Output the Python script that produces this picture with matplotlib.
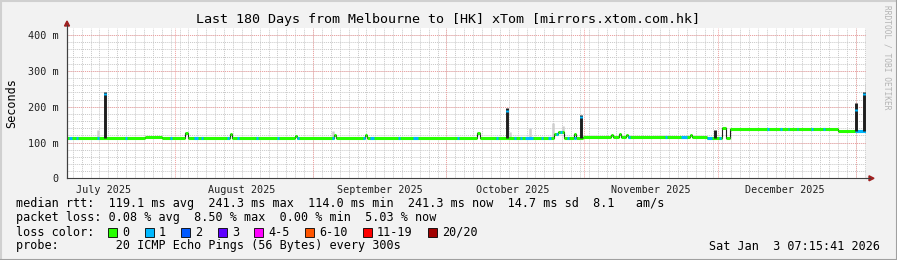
"""
Smokeping style latency graph: last 180 days, Melbourne -> xTom HK mirror.
"""

import datetime as dt
import numpy as np
import matplotlib
matplotlib.use("Agg")
import matplotlib.pyplot as plt
from matplotlib.patches import Rectangle, Polygon
from matplotlib.lines import Line2D

# x values are days counted from 2025-07-01 00:00
T0 = dt.datetime(2025, 7, 1)
X_START, X_END = 6.7, 186.3

# median rtt (ms) as a step line: value holds from each day to the next
med_days = [6.7, 24.3, 28.1, 33.3, 33.8, 43.4, 43.9, 58.0, 58.4, 66.7, 67.2,
            73.7, 74.1, 98.8, 99.5, 116.2, 117.0, 118.4, 120.7, 121.1, 122.7,
            129.0, 129.4, 130.8, 131.3, 132.4, 132.8, 146.7, 147.1, 150.5,
            154.0, 154.9, 155.8, 180.0]
med_ms = [113, 115.5, 113, 127, 113, 124, 113, 118, 113, 122, 113,
          120, 113, 127, 113, 124, 128, 113, 125, 113, 116,
          120, 116, 124, 116, 122, 116, 120, 116, 113,
          140, 113, 138, 132]

# tall spikes: dark smoke bar top and the median tip (1 loss, blue)
spike_days = [15.3, 105.6, 122.2, 152.3, 184.0, 185.9]
spike_top = [241, 196, 177, 135, 210, 241]
spike_tip = [236, 190, 172, 0, 192, 236]

# faint smoke (grey) above the line
smoke_days = [13.7, 66.5, 106.3, 110.8, 115.9, 118.2, 186.2]
smoke_top = [135, 131, 130, 140, 154, 145, 266]

# stretches where 1 of 20 pings was lost (start day, length in days)
loss_days = [7.2, 8.8, 13.5, 19.8, 29.9, 35.3, 36.8, 42.7, 44.9, 49.2, 53.9,
             58.4, 66.3, 73.2, 74.8, 81.1, 84.5, 94.4, 103.1, 107.2, 108.5,
             109.6, 113.2, 114.8, 116.6, 117.5, 119.1, 120.6, 132.8, 141.1,
             144.8, 150.5, 153.2, 164.0, 166.9, 168.7, 170.7, 173.9, 176.6,
             183.9]
loss_len = [0.6, 0.4, 0.4, 0.4, 0.4, 0.8, 0.4, 0.4, 0.4, 0.4, 0.4,
            0.4, 0.4, 0.4, 0.8, 0.4, 1.2, 0.4, 0.4, 0.4, 0.4,
            1.8, 0.4, 0.6, 0.4, 0.4, 0.4, 0.6, 0.4, 0.4,
            1.2, 1.2, 0.4, 0.4, 0.5, 0.4, 0.4, 0.4, 0.4,
            2.4]

y_ticks = [0, 100, 200, 300, 400]
y_labels = ["0", "100 m", "200 m", "300 m", "400 m"]

loss_labels = ["0", "1", "2", "3", "4-5", "6-10", "11-19", "20/20"]
loss_colors = ["#26ff00", "#00b8ff", "#0059ff", "#5e00ff",
               "#ff00ff", "#ff5500", "#ff0000", "#a00000"]

stats_rtt = "median rtt:  119.1 ms avg  241.3 ms max  114.0 ms min  241.3 ms now  14.7 ms sd  8.1   am/s"
stats_loss = "packet loss: 0.08 % avg  8.50 % max  0.00 % min  5.03 % now"
probe_text = "probe:        20 ICMP Echo Pings (56 Bytes) every 300s"
stamp_text = "Sat Jan  3 07:15:41 2026"
title_text = "Last 180 Days from Melbourne to [HK] xTom [mirrors.xtom.com.hk]"

W, H = 897, 260
MONO = "DejaVu Sans Mono"


def fx(px):
    return px / W


def fy(py):
    return 1 - py / H


def day(d):
    return (d - T0).total_seconds() / 86400


def median_at(d):
    i = np.searchsorted(med_days, d, side="right") - 1
    return med_ms[max(i, 0)]


fig = plt.figure(figsize=(W / 100, H / 100), dpi=100, facecolor="#f2f2f2")

# plot area 67..866 px wide, 28..178 px tall
ax = fig.add_axes([fx(67), fy(178.3), fx(866 - 67), (178.3 - 28) / H])
ax.set_facecolor("white")
ax.set_xlim(X_START, X_END)
ax.set_ylim(0, 420)

# minor grid
for d in np.arange(8.0, X_END, 2.0):
    ax.axvline(d, color="#c8c8c8", lw=0.7, ls=(0, (1, 1)), zorder=0)
for v in np.arange(20, 420, 20):
    ax.axhline(v, color="#c8c8c8", lw=0.7, ls=(0, (1, 1)), zorder=0)

# major grid: month starts and every 100 ms
month_starts = [day(dt.datetime(2025, m, 1)) for m in range(8, 13)] + [day(dt.datetime(2026, 1, 1))]
for d in month_starts:
    ax.axvline(d, color="#f0a0a0", lw=0.7, ls=(0, (1, 1)), zorder=0.5)
for v in y_ticks[1:]:
    ax.axhline(v, color="#f0a0a0", lw=0.7, ls=(0, (1, 1)), zorder=0.5)

# smoke
ax.vlines(smoke_days, [median_at(d) for d in smoke_days], smoke_top,
          color="#cfcfcf", lw=1.8, zorder=1)

# median: thin dark risers, thick green flats
ax.step(med_days + [X_END], med_ms + [med_ms[-1]], where="post",
        color="#202020", lw=0.8, zorder=2)
ax.hlines(med_ms, med_days, med_days[1:] + [X_END], color=loss_colors[0],
          lw=2.2, zorder=3)
for d, n in zip(loss_days, loss_len):
    ax.hlines(median_at(d), d, d + n, color=loss_colors[1], lw=2.2, zorder=4)

# spikes
for d, top, tip in zip(spike_days, spike_top, spike_tip):
    base = median_at(d)
    ax.vlines(d, base, top, color="#1e1e1e", lw=2.1, zorder=5)
    if tip:
        ax.vlines(d, tip - 4, tip + 2, color=loss_colors[1], lw=2.1, zorder=6)

for s in ["top", "right"]:
    ax.spines[s].set_visible(False)
for s in ["left", "bottom"]:
    ax.spines[s].set_color("#404040")
    ax.spines[s].set_linewidth(0.8)

ax.set_yticks(y_ticks, y_labels)
label_days = [day(dt.datetime(2025, m, 16)) for m in range(7, 13)]
month_names = [dt.datetime(2025, m, 1).strftime("%B %Y") for m in range(7, 13)]
ax.set_xticks(label_days, month_names)
ax.tick_params(axis="both", length=0, labelsize=7.3, colors="#202020")
ax.tick_params(axis="y", pad=6)
ax.tick_params(axis="x", pad=4.5)
for t in ax.get_xticklabels() + ax.get_yticklabels():
    t.set_family(MONO)

# axis arrows (dark red)
fig.add_artist(Line2D([fx(67), fx(67)], [fy(178.3), fy(25)], color="#404040", lw=0.8))
fig.add_artist(Line2D([fx(866), fx(870)], [fy(178.3), fy(178.3)], color="#404040", lw=0.8))
fig.add_artist(Polygon([[fx(64.5), fy(26)], [fx(69.5), fy(26)], [fx(67), fy(21)]],
                       closed=True, color="#a02020"))
fig.add_artist(Polygon([[fx(869), fy(175.8)], [fx(869), fy(180.8)], [fx(874), fy(178.3)]],
                       closed=True, color="#a02020"))

# titles
fig.text(fx(448), fy(19), title_text, family=MONO, fontsize=9.6, ha="center", va="center")
fig.text(fx(12), fy(103), "Seconds", family=MONO, fontsize=8.5, rotation=90,
         ha="center", va="center")
fig.text(fx(887), fy(5), "RRDTOOL / TOBI OETIKER", family=MONO, fontsize=5.7,
         rotation=270, ha="center", va="top", color="#b4b4b4")

# legend block
fig.text(fx(16), fy(204), stats_rtt, family=MONO, fontsize=8.5, va="center")
fig.text(fx(16), fy(218), stats_loss, family=MONO, fontsize=8.5, va="center")
fig.text(fx(16), fy(232), "loss color:", family=MONO, fontsize=8.5, va="center")
fig.text(fx(16), fy(246), probe_text, family=MONO, fontsize=8.5, va="center")
fig.text(fx(880), fy(246), stamp_text, family=MONO, fontsize=8.5, va="center", ha="right")

cursor = 108
for lab, col in zip(loss_labels, loss_colors):
    fig.add_artist(Rectangle((fx(cursor), fy(236.5)), fx(9), 9 / H, facecolor=col,
                             edgecolor="black", lw=0.6))
    fig.text(fx(cursor + 14), fy(232), lab, family=MONO, fontsize=8.5, va="center")
    cursor += 14 + len(lab) * 7.1 + 15.5

# 3d frame
fig.add_artist(Line2D([0, 1], [fy(0.5), fy(0.5)], color="#d0d0d0", lw=1.5))
fig.add_artist(Line2D([fx(0.5), fx(0.5)], [0, 1], color="#d0d0d0", lw=1.5))
fig.add_artist(Line2D([0, 1], [fy(259.5), fy(259.5)], color="#a0a0a0", lw=1.5))
fig.add_artist(Line2D([fx(896.5), fx(896.5)], [0, 1], color="#a0a0a0", lw=1.5))

fig.savefig("out.png", dpi=100, facecolor=fig.get_facecolor())
